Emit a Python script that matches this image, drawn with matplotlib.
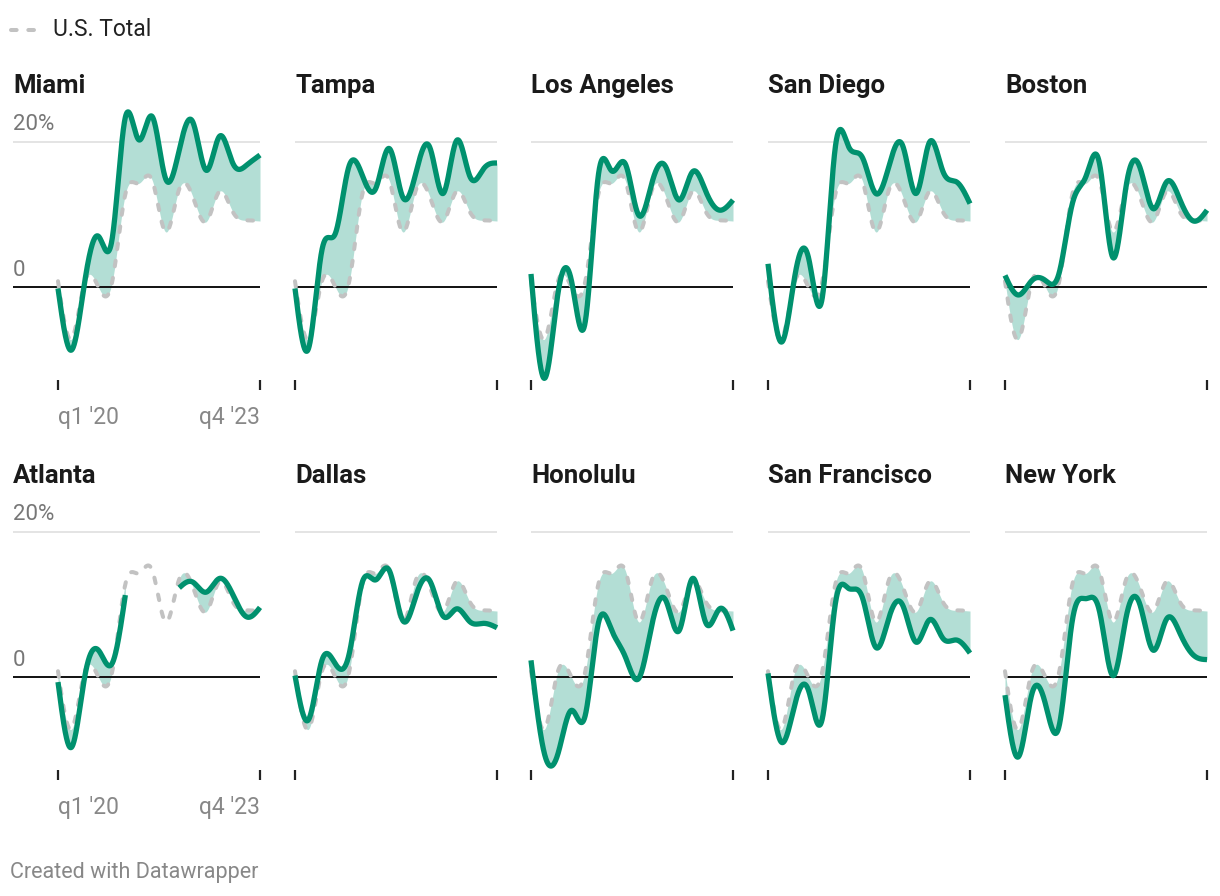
import numpy as np
import matplotlib.pyplot as plt
from matplotlib.lines import Line2D

plt.rcParams['font.family'] = ['Roboto', 'DejaVu Sans']

# quarterly values, change in %
quarters = ["q1 '20", "q2 '20", "q3 '20", "q4 '20", "q1 '21", "q2 '21", "q3 '21", "q4 '21",
            "q1 '22", "q2 '22", "q3 '22", "q4 '22", "q1 '23", "q2 '23", "q3 '23", "q4 '23"]
us_total = [0.8, -7.2, 0.8, 0.0, 0.5, 12.8, 14.3, 14.7, 7.6, 13.5, 12.5, 9.0, 13.2, 10.3, 9.2, 9.1]

miami = [-0.2, -8.7, 0.9, 7.0, 6.4, 23.4, 20.3, 23.5, 14.9, 18.9, 22.8, 16.1, 20.8, 17.0, 16.8, 18.2]
tampa = [-0.2, -8.5, 5.1, 7.4, 16.6, 15.4, 13.6, 19.1, 12.4, 15.9, 19.3, 12.9, 20.2, 15.2, 16.3, 17.1]
los_angeles = [1.8, -12.6, -0.9, 0.9, -5.1, 15.4, 16.0, 17.0, 9.9, 14.5, 16.6, 12.0, 15.9, 13.1, 10.6, 12.0]
san_diego = [3.2, -7.6, 1.6, 4.1, -1.8, 19.3, 19.3, 17.9, 12.9, 16.8, 19.5, 12.9, 20.0, 15.9, 14.5, 11.5]
boston = [1.6, -1.1, 0.9, 0.9, 1.8, 11.5, 15.2, 17.2, 4.1, 14.0, 16.6, 10.8, 14.5, 12.0, 9.1, 10.6]
atlanta = [-0.7, -9.7, 0.2, 3.7, 1.8, 11.3, np.nan, np.nan, np.nan, 12.3, 13.1, 11.7, 13.6, 11.3, 8.3, 9.6]
dallas = [0.2, -5.9, 2.3, 1.8, 3.0, 13.1, 13.4, 14.7, 7.8, 11.3, 13.3, 8.4, 9.4, 7.6, 7.4, 6.8]
honolulu = [2.3, -10.6, -10.6, -4.6, -5.5, 7.4, 6.4, 2.8, -0.2, 7.4, 10.6, 6.4, 13.6, 7.4, 9.4, 6.4]
san_francisco = [0.5, -9.0, -3.7, -1.8, -6.0, 10.1, 12.2, 11.0, 4.1, 8.3, 9.9, 4.8, 7.9, 5.3, 5.1, 3.3]
new_york = [-2.5, -11.0, -2.3, -3.7, -6.9, 7.8, 10.8, 9.2, 0.2, 8.3, 10.1, 3.7, 8.0, 6.0, 3.0, 2.4]

cities = [("Miami", miami), ("Tampa", tampa), ("Los Angeles", los_angeles),
          ("San Diego", san_diego), ("Boston", boston), ("Atlanta", atlanta),
          ("Dallas", dallas), ("Honolulu", honolulu), ("San Francisco", san_francisco),
          ("New York", new_york)]

GREEN = '#00916e'
FILL = '#b3ded5'
GRAY = '#c2c2c2'


def spline(x, y, xs):
    # natural cubic spline, used only to draw the curved line through the points
    x = np.asarray(x, float)
    y = np.asarray(y, float)
    n = len(x)
    if n < 3:
        return np.interp(xs, x, y)
    h = np.diff(x)
    A = np.zeros((n, n))
    d = np.zeros(n)
    A[0, 0] = 1
    A[-1, -1] = 1
    for i in range(1, n - 1):
        A[i, i - 1] = h[i - 1]
        A[i, i] = 2 * (h[i - 1] + h[i])
        A[i, i + 1] = h[i]
        d[i] = 6 * ((y[i + 1] - y[i]) / h[i] - (y[i] - y[i - 1]) / h[i - 1])
    M = np.linalg.solve(A, d)
    idx = np.clip(np.searchsorted(x, xs) - 1, 0, n - 2)
    x0, x1 = x[idx], x[idx + 1]
    hh = x1 - x0
    return (M[idx] * (x1 - xs) ** 3 / (6 * hh) + M[idx + 1] * (xs - x0) ** 3 / (6 * hh)
            + (y[idx] / hh - M[idx] * hh / 6) * (x1 - xs)
            + (y[idx + 1] / hh - M[idx + 1] * hh / 6) * (xs - x0))


W, H = 1220, 896
fig = plt.figure(figsize=(W / 100, H / 100), dpi=100)

col_left = [13, 295, 531, 768, 1005]
data_left = [58, 295, 531, 768, 1005]
data_w = 202
row_zero = [287, 677]
px_per = 7.25
ymin, ymax = -12.83, 24

xq = np.arange(len(quarters))
xs_all = np.linspace(0, 15, 900)

for k, (name, vals) in enumerate(cities):
    r, c = divmod(k, 5)
    z = row_zero[r]
    top = z - ymax * px_per
    bottom = z - ymin * px_per
    left = col_left[c]
    unit = data_w / 15
    ax = fig.add_axes([left / W, 1 - bottom / H, (data_left[c] + data_w - left) / W, (bottom - top) / H])
    ax.set_xlim(-(data_left[c] - left) / unit, 15)
    ax.set_ylim(ymin, ymax)
    for s in ax.spines.values():
        s.set_visible(False)
    ax.set_yticks([])
    ax.set_xticks([0, 15])
    ax.tick_params(axis='x', length=7.5, width=1.6, color='#222222', pad=11,
                   labelsize=16.5, labelcolor='#888888')
    if c == 0:
        ax.set_xticklabels([quarters[0], quarters[-1]])
        lab = ax.get_xticklabels()
        lab[0].set_ha('left')
        lab[1].set_ha('right')
    else:
        ax.set_xticklabels(['', ''])

    ax.axhline(20, color='#e2e2e2', lw=1.3, zorder=0)
    ax.axhline(0, color='#111111', lw=1.4, zorder=2)

    us_s = spline(xq, us_total, xs_all)
    ax.plot(xs_all, us_s, color=GRAY, lw=2.9, dashes=(1.4, 2.9), dash_capstyle='round',
            zorder=3, clip_on=False)

    v = np.asarray(vals, float)
    ok = ~np.isnan(v)
    # contiguous runs of data
    runs = []
    i = 0
    while i < len(v):
        if ok[i]:
            j = i
            while j + 1 < len(v) and ok[j + 1]:
                j += 1
            runs.append((i, j))
            i = j + 1
        else:
            i += 1
    for a, b in runs:
        xs = np.linspace(a, b, 60 * (b - a) + 1)
        ys = spline(xq[a:b + 1], v[a:b + 1], xs)
        ax.fill_between(xs, spline(xq, us_total, xs), ys, color=FILL, lw=0, zorder=1)
        ax.plot(xs, ys, color=GREEN, lw=3.8, solid_capstyle='butt', zorder=4, clip_on=False)

    fig.text(left / W, 1 - (z - 201) / H, name, fontsize=18.5, fontweight='bold',
             color='#1a1a1a', va='center', ha='left')
    if c == 0:
        fig.text(13 / W, 1 - (z - 162) / H, "20%", fontsize=16, color='#777777', va='center')
        fig.text(13 / W, 1 - (z - 17) / H, "0", fontsize=16, color='#777777', va='center')

# legend
fig.add_artist(Line2D([11 / W, 41 / W], [1 - 30 / H, 1 - 30 / H], color=GRAY, lw=2.9,
                      dashes=(1.4, 2.9), dash_capstyle='round'))
fig.text(53 / W, 1 - 30 / H, "U.S. Total", fontsize=16.5, color='#222222', va='center')

fig.text(10 / W, 1 - 872 / H, "Created with Datawrapper", fontsize=15.5, color='#888888', va='center')

fig.savefig('out.png', dpi=100, facecolor='white')
